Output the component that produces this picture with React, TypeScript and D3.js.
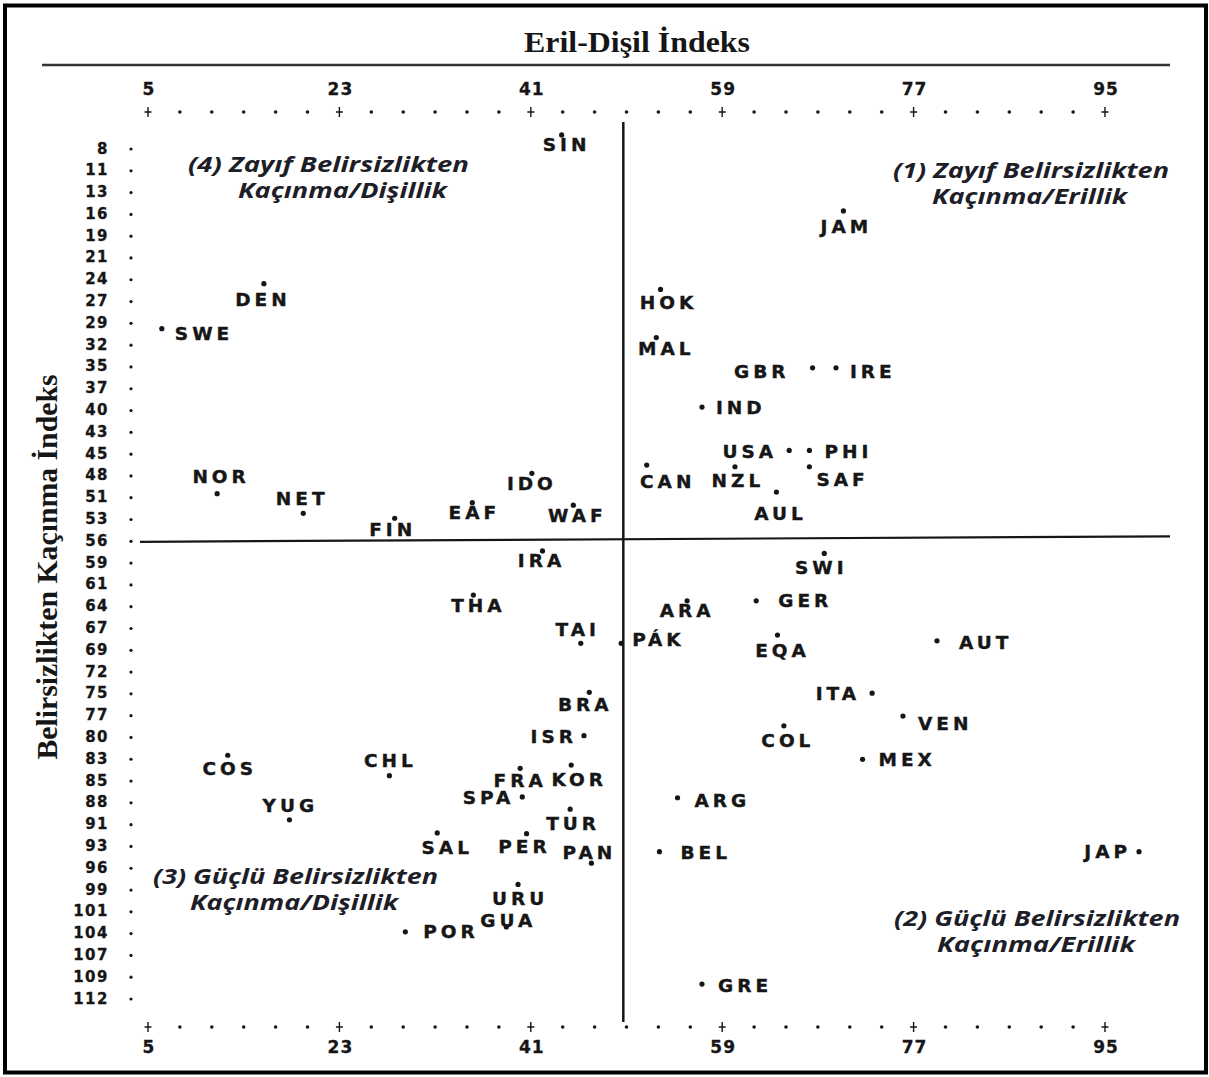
import React from "react";
import * as d3 from "d3";

// ---------- DATA ----------
const countries = [
  "SIN","DEN","SWE","NOR","NET","FIN","EAF","IDO","WAF","IRA",
  "HOK","MAL","JAM","GBR","IRE","IND","USA","PHI","CAN","NZL",
  "SAF","AUL","SWI","GER","ARA","PAK","EQA","AUT","ITA","VEN",
  "COL","MEX","ARG","BEL","JAP","GRE","THA","TAI","BRA","ISR",
  "COS","CHL","FRA","KOR","SPA","YUG","TUR","SAL","PER","PAN",
  "URU","GUA","POR",
];
// Eril-Dişil (masculinity) index
const masValues = [
  43.9,15.9,6.3,11.5,19.6,28.2,35.5,41.1,45.0,42.1,
  53.2,52.8,70.4,67.5,69.7,57.1,65.3,67.2,51.9,60.2,
  67.2,64.1,68.6,62.2,55.7,49.5,64.2,79.2,73.1,76.0,
  64.8,72.2,54.8,53.1,98.2,57.1,35.6,45.7,46.5,46.0,
  12.5,27.7,40.0,44.8,40.2,18.3,44.7,32.2,40.6,46.7,
  39.8,38.7,29.2,
];
// Belirsizlikten kaçınma (uncertainty avoidance) index
const uaiValues = [
  6.4,24.6,30.1,50.3,52.7,53.3,51.4,47.8,51.7,57.3,
  25.3,31.2,15.7,34.9,34.9,39.7,45.0,45.0,46.8,47.0,
  47.0,50.1,57.6,63.4,63.4,68.6,67.6,68.3,74.7,77.5,
  78.7,82.8,87.5,94.1,94.1,110.3,62.7,68.6,74.6,79.9,
  82.3,84.8,83.9,83.5,87.4,90.2,88.9,91.8,91.9,95.5,
  98.1,103.3,103.9,
];
const displayNames: Record<string, string> = { PAK: "PÁK" };

const xTickLabels = [5, 23, 41, 59, 77, 95];
const xMinorStep = 3;
const yTickLabels = [
  8, 11, 13, 16, 19, 21, 24, 27, 29, 32, 35, 37, 40, 43, 45, 48, 51, 53, 56, 59,
  61, 64, 67, 69, 72, 75, 77, 80, 83, 85, 88, 91, 93, 96, 99, 101, 104, 107, 109, 112,
];
const masDivider = 49.7;
const uaiDivider = 56;

const title = "Eril-Dişil İndeks";
const yTitle = "Belirsizlikten Kaçınma İndeks";
const quadrantLines = [
  ["(4)  Zayıf Belirsizlikten", "Kaçınma/Dişillik"],
  ["(1) Zayıf Belirsizlikten", "Kaçınma/Erillik"],
  ["(3) Güçlü Belirsizlikten", "Kaçınma/Dişillik"],
  ["(2) Güçlü Belirsizlikten", "Kaçınma/Erillik"],
];

// ---------- LAYOUT / STYLE ----------
const W = 1209;
const H = 1077;
// label placement relative to point: [dx, dy(center), anchor]
const labelPlace: Record<string, [number, number, string]> = {
  SIN: [3, 10, "middle"], DEN: [-3, 16, "middle"], SWE: [13, 5, "start"],
  NOR: [2, -17, "middle"], NET: [-3, -15, "middle"], FIN: [-4, 11, "middle"],
  EAF: [0, 10, "middle"], IDO: [-2, 10, "middle"], WAF: [2, 10, "middle"],
  IRA: [-3, 10, "middle"], HOK: [6, 13, "middle"], MAL: [8, 11, "middle"],
  JAM: [1, 16, "middle"], GBR: [-27, 4, "end"], IRE: [14, 4, "start"],
  IND: [14, 0, "start"], USA: [-16, 1, "end"], PHI: [15, 1, "start"],
  CAN: [19, 16, "middle"], NZL: [1, 14, "middle"], SAF: [7, 13, "start"],
  AUL: [2, 21, "middle"], SWI: [-5, 14, "middle"], GER: [22, 0, "start"],
  ARA: [-2, 10, "middle"], PAK: [11, -4, "start"], EQA: [3, 15, "middle"],
  AUT: [22, 2, "start"], ITA: [-16, 0, "end"], VEN: [15, 7, "start"],
  COL: [2, 15, "middle"], MEX: [16, 0, "start"], ARG: [17, 3, "start"],
  BEL: [21, 1, "start"], JAP: [-12, 0, "end"], GRE: [16, 1, "start"],
  THA: [3, 10, "middle"], TAI: [-5, -14, "middle"], BRA: [-6, 12, "middle"],
  ISR: [-11, 1, "end"], COS: [0, 13, "middle"], CHL: [-1, -15, "middle"],
  FRA: [-2, 12, "middle"], KOR: [6, 14, "middle"], SPA: [-12, 1, "end"],
  YUG: [-1, -14, "middle"], TUR: [1, 14, "middle"], SAL: [8, 15, "middle"],
  PER: [-4, 13, "middle"], PAN: [-4, -11, "middle"], URU: [0, 14, "middle"],
  GUA: [0, -6, "middle"], POR: [18, 0, "start"],
};
// x line1, x line2, baseline line1, width line1, width line2
const quadrantPos: [number, number, number, number, number][] = [
  [188, 238, 172, 281, 209],
  [893, 932, 178, 276, 195],
  [153, 190, 884, 285, 208],
  [894, 937, 926, 286, 198],
];

const ink = "#161616";
const labelFont = "'DejaVu Sans', Verdana, sans-serif";
const LS = 4; // letter spacing for country codes

export default function App() {
  const x = d3.scaleLinear().domain([5, 95]).range([148, 1105]);
  const y = d3.scaleLinear().domain([8, 112]).range([148, 998]);

  const minor = d3.range(5, 95 + 0.001, xMinorStep);
  const yStep = (112 - 8) / (yTickLabels.length - 1);
  const plus = (cx: number, cy: number) =>
    `M${cx - 3.5},${cy}H${cx + 3.5}M${cx},${cy - 5}V${cy + 5}`;

  const xAxisRow = (rowY: number, labelY: number, key: string) => (
    <g key={key}>
      {minor.map((v) =>
        xTickLabels.includes(v) ? (
          <path key={v} d={plus(x(v), rowY)} stroke={ink} strokeWidth={1.4} />
        ) : (
          <circle key={v} cx={x(v)} cy={rowY} r={1.8} fill={ink} />
        )
      )}
      {xTickLabels.map((v) => (
        <text
          key={"l" + v}
          x={x(v) + 1}
          y={labelY}
          textAnchor="middle"
          fontFamily={labelFont}
          fontWeight="bold"
          fontSize={17}
          letterSpacing={1}
          fill={ink}
          stroke={ink}
          strokeWidth={0.3}
        >
          {v}
        </text>
      ))}
    </g>
  );

  return (
    <svg
      width={W}
      height={H}
      viewBox={`0 0 ${W} ${H}`}
      style={{ position: "absolute", left: 0, top: 0, background: "#fff" }}
    >
      <rect x={0} y={0} width={W} height={H} fill="#fff" />
      <rect x={5} y={5.5} width={1201} height={1067} fill="none" stroke="#000" strokeWidth={4} />

      {/* title */}
      <text
        x={637}
        y={52}
        textAnchor="middle"
        fontFamily="'Liberation Serif', 'Times New Roman', serif"
        fontWeight="bold"
        fontSize={29}
        textLength={226}
        lengthAdjust="spacingAndGlyphs"
        fill={ink}
      >
        {title}
      </text>
      <line x1={42} x2={1170} y1={65} y2={65} stroke="#333" strokeWidth={2.5} />

      {/* y title */}
      <text
        transform={`translate(57,${567}) rotate(-90)`}
        textAnchor="middle"
        fontFamily="'Liberation Serif', 'Times New Roman', serif"
        fontWeight="bold"
        fontSize={29}
        textLength={385}
        lengthAdjust="spacingAndGlyphs"
        fill={ink}
      >
        {yTitle}
      </text>

      {/* x axes */}
      {xAxisRow(112, 95, "top")}
      {xAxisRow(1027, 1053, "bottom")}

      {/* y axis */}
      {yTickLabels.map((lab, i) => {
        const yy = y(8 + i * yStep);
        return (
          <g key={i}>
            <text
              x={109}
              y={yy + 5.5}
              textAnchor="end"
              fontFamily={labelFont}
              fontWeight="bold"
              fontSize={15}
              letterSpacing={1.5}
              fill={ink}
              stroke={ink}
              strokeWidth={0.3}
            >
              {lab}
            </text>
            <circle cx={131} cy={yy + 1} r={1.6} fill={ink} />
          </g>
        );
      })}

      {/* dividers */}
      <line x1={x(masDivider)} x2={x(masDivider)} y1={122} y2={1022} stroke={ink} strokeWidth={2.5} />
      <line x1={140} x2={1170} y1={y(uaiDivider) + 1.5} y2={y(uaiDivider) - 4} stroke={ink} strokeWidth={2.2} />

      {/* quadrant captions */}
      {quadrantLines.map((lines, i) => {
        const [x1, x2, by, w1, w2] = quadrantPos[i];
        return (
          <g key={"q" + i} fontFamily="'Open Sans', 'DejaVu Sans', sans-serif" fontStyle="italic" fontWeight="bold" fontSize={21} fill="#1e1e28">
            <text x={x1} y={by} textLength={w1} lengthAdjust="spacingAndGlyphs">{lines[0]}</text>
            <text x={x2} y={by + 26} textLength={w2} lengthAdjust="spacingAndGlyphs">{lines[1]}</text>
          </g>
        );
      })}

      {/* points & labels */}
      {countries.map((c, i) => {
        const px = x(masValues[i]);
        const py = y(uaiValues[i]);
        const [dx, dy, anchor] = labelPlace[c];
        const shift = anchor === "middle" ? LS / 2 : anchor === "end" ? LS : 0;
        return (
          <g key={c}>
            <circle cx={px} cy={py} r={2.6} fill={ink} />
            <text
              x={px + dx + shift}
              y={py + dy + 6.5}
              textAnchor={anchor}
              fontFamily={labelFont}
              fontWeight="bold"
              fontSize={18.5}
              letterSpacing={LS}
              fill={ink}
              stroke={ink}
              strokeWidth={0.4}
            >
              {displayNames[c] ?? c}
            </text>
          </g>
        );
      })}
    </svg>
  );
}
